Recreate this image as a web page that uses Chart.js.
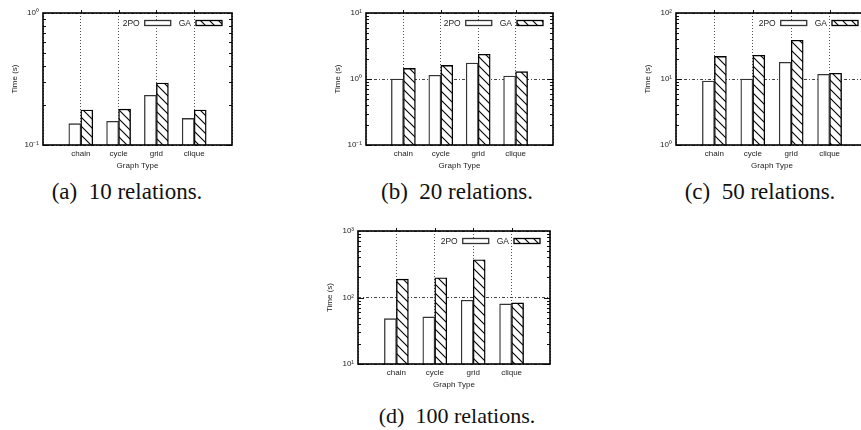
<!DOCTYPE html>
<html>
<head>
<meta charset="utf-8">
<script src="https://cdn.jsdelivr.net/npm/chart.js@4/dist/chart.umd.min.js"></script>
<style>
  html, body { margin: 0; padding: 0; background: #fff; overflow: hidden; width: 861px; height: 430px; }
  canvas { position: absolute; }
  .cap { position: absolute; font-family: 'Liberation Serif', 'Times New Roman', serif; font-size: 23px;
         line-height: 23px; color: #111; white-space: pre; transform: translateX(-50%); }
</style>
</head>
<body>
<canvas id="c10" width="250" height="175" style="left:0px;top:0px"></canvas>
<canvas id="c20" width="248" height="175" style="left:323px;top:0px"></canvas>
<canvas id="c50" width="253" height="175" style="left:633px;top:0px"></canvas>
<canvas id="c100" width="253" height="176" style="left:315px;top:218px"></canvas>
<div class="cap" style="left:127px;top:180px">(a)  10 relations.</div>
<div class="cap" style="left:457px;top:180px">(b)  20 relations.</div>
<div class="cap" style="left:760px;top:180px">(c)  50 relations.</div>
<div class="cap" style="left:457px;top:404px;font-size:22px">(d)  100 relations.</div>
<script>
const categories = ['chain', 'cycle', 'grid', 'clique'];

// seconds
const po10  = [0.145, 0.151, 0.238, 0.159];
const ga10  = [0.184, 0.187, 0.295, 0.184];
const po20  = [1.0, 1.14, 1.75, 1.11];
const ga20  = [1.45, 1.61, 2.37, 1.29];
const po50  = [9.3, 10.0, 17.9, 11.8];
const ga50  = [22, 22.9, 38.6, 12.2];
const po100 = [48, 51, 91, 80];
const ga100 = [189, 198, 369, 83];

const range10  = [0.1, 1];
const range20  = [0.1, 10];
const range50  = [1, 100];
const range100 = [10, 1000];

const FONT = "'Liberation Sans', Arial, Helvetica, sans-serif";
const TXT = '#222';
const SUP = { '-': '⁻', '0': '⁰', '1': '¹', '2': '²', '3': '³' };

function hatch() {
  const s = 9;
  const c = document.createElement('canvas');
  c.width = s; c.height = s;
  const g = c.getContext('2d');
  g.fillStyle = '#fff';
  g.fillRect(0, 0, s, s);
  g.strokeStyle = '#000';
  g.lineWidth = 1.1;
  g.beginPath();
  g.moveTo(-1, -1); g.lineTo(s + 1, s + 1);
  g.moveTo(-1, s - 1); g.lineTo(1, s + 1);
  g.moveTo(s - 1, -1); g.lineTo(s + 1, 1);
  g.stroke();
  return g.createPattern(c, 'repeat');
}
const GA_FILL = hatch();

function expLabel(v) {
  const e = String(Math.round(Math.log10(v)));
  return '10' + e.split('').map(ch => SUP[ch]).join('');
}

// frame, inward log ticks and the gnuplot style key
const framePlugin = {
  id: 'frame',
  afterDraw(chart) {
    const { ctx, chartArea: a, scales: { x, y } } = chart;
    ctx.save();
    ctx.strokeStyle = '#111';
    ctx.lineWidth = 1;
    ctx.beginPath();
    const lo = Math.round(Math.log10(y.min));
    const hi = Math.round(Math.log10(y.max));
    for (let e = lo; e < hi; e++) {
      for (let k = 1; k < 10; k++) {
        const py = Math.round(y.getPixelForValue(k * Math.pow(10, e))) + 0.5;
        const len = k === 1 ? 6 : 3;
        ctx.moveTo(a.left, py); ctx.lineTo(a.left + len, py);
        ctx.moveTo(a.right, py); ctx.lineTo(a.right - len, py);
      }
    }
    categories.forEach((c, i) => {
      const px = Math.round(x.getPixelForValue(i + 1)) + 0.5;
      ctx.moveTo(px, a.top); ctx.lineTo(px, a.top - 3);
    });
    ctx.stroke();
    ctx.strokeStyle = '#000';
    ctx.lineWidth = 1.6;
    ctx.strokeRect(a.left, a.top, a.right - a.left, a.bottom - a.top);

    // key
    const ds = chart.data.datasets;
    ctx.font = '8.5px ' + FONT;
    ctx.fillStyle = TXT;
    ctx.textAlign = 'right';
    ctx.textBaseline = 'middle';
    const ky = a.top + 10;
    let right = a.right - 10;
    for (let i = ds.length - 1; i >= 0; i--) {
      const w = 26, h = 5;
      ctx.fillStyle = ds[i].backgroundColor;
      ctx.fillRect(right - w, ky - h / 2, w, h);
      ctx.strokeStyle = ds[i].borderColor;
      ctx.lineWidth = 1.3;
      ctx.strokeRect(right - w, ky - h / 2, w, h);
      ctx.fillStyle = TXT;
      ctx.fillText(ds[i].label, right - w - 5, ky + 0.5);
      right = right - w - 5 - ctx.measureText(ds[i].label).width - 8;
    }
    ctx.restore();
  }
};

function makeChart(id, po, ga, range) {
  const labels = ['', ...categories, ''];
  const pad = v => [null, ...v, null];
  return new Chart(document.getElementById(id), {
    type: 'bar',
    data: {
      labels,
      datasets: [
        { label: '2PO', data: pad(po), backgroundColor: '#fff', borderColor: '#333', borderWidth: 1.3, barThickness: 12 },
        { label: 'GA', data: pad(ga), backgroundColor: GA_FILL, borderColor: '#000', borderWidth: 1.4, barThickness: 12 }
      ]
    },
    options: {
      responsive: false,
      devicePixelRatio: 1,
      animation: false,
      layout: { padding: { top: 13, right: 18, left: 0, bottom: 0 } },
      plugins: { legend: { display: false }, tooltip: { enabled: false } },
      scales: {
        x: {
          offset: false,
          grid: { offset: false, color: '#555', lineWidth: 1, drawTicks: false },
          border: { display: false, dash: [1, 2] },
          ticks: { font: { family: FONT, size: 8 }, color: TXT, padding: 4, autoSkip: false, maxRotation: 0 },
          title: { display: true, text: 'Graph Type', font: { family: FONT, size: 8 }, color: TXT, padding: { top: 0, bottom: 4 } },
          afterFit: s => { s.height = 30; }
        },
        y: {
          type: 'logarithmic',
          min: range[0],
          max: range[1],
          grid: { color: '#444', lineWidth: 1, drawTicks: false },
          border: { display: false, dash: [3, 2, 1, 2] },
          ticks: { font: { family: FONT, size: 8 }, color: TXT, padding: 4, callback: v => expLabel(v) },
          title: { display: true, text: 'Time (s)', font: { family: FONT, size: 8 }, color: TXT, padding: { top: 10, bottom: 0 } },
          afterBuildTicks: s => {
            const lo = Math.round(Math.log10(range[0]));
            const hi = Math.round(Math.log10(range[1]));
            const t = [];
            for (let e = lo; e <= hi; e++) t.push({ value: Math.pow(10, e), major: true });
            s.ticks = t;
          },
          afterFit: s => { s.width = 43; }
        }
      }
    },
    plugins: [framePlugin]
  });
}

makeChart('c10', po10, ga10, range10);
makeChart('c20', po20, ga20, range20);
makeChart('c50', po50, ga50, range50);
makeChart('c100', po100, ga100, range100);
</script>
</body>
</html>
